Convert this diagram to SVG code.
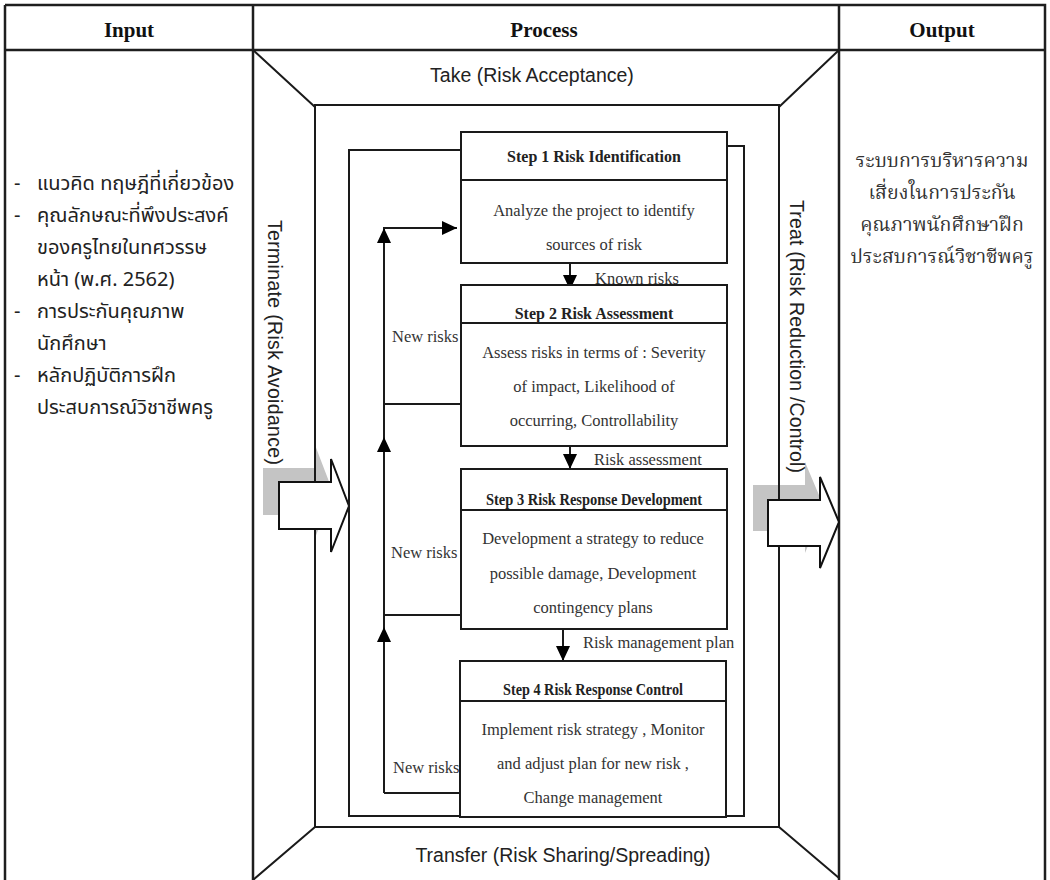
<svg xmlns="http://www.w3.org/2000/svg" width="1050" height="880" viewBox="0 0 1050 880">
<style>
.tb{fill:none;stroke:#1e1e1e;stroke-width:2.5}
.ln{fill:none;stroke:#1a1a1a;stroke-width:2}
.box{fill:#fff;stroke:#1a1a1a;stroke-width:2}
.hd{font-family:'Liberation Serif',serif;font-weight:bold;font-size:21px;fill:#111;text-anchor:middle}
.sans{font-family:'Liberation Sans',Arial,sans-serif;font-size:19.5px;fill:#222}
.st{font-family:'Liberation Serif',serif;font-weight:bold;font-size:16px;fill:#222;text-anchor:middle}
.bd{font-family:'Liberation Serif',serif;font-size:16.5px;fill:#333;text-anchor:middle}
.lb{font-family:'Liberation Serif',serif;font-size:16.5px;fill:#333}
.th{font-family:'Noto Sans Thai','Noto Sans','DejaVu Sans',sans-serif;font-size:20px;fill:#222}
.ths{font-family:'Noto Serif Thai','Liberation Serif',serif;font-size:19.5px;fill:#333;text-anchor:middle}
.shadow{fill:#c4c4c4}
.barrow{fill:#fff;stroke:#111;stroke-width:2}
</style>
<defs>
<marker id="arr" markerUnits="userSpaceOnUse" markerWidth="15" markerHeight="14" refX="15" refY="7" orient="auto">
<path d="M0,0 L15,7 L0,14 Z" fill="#000"/>
</marker>
</defs>
<rect width="1050" height="880" fill="#fff"/>

<g id="table">
<path class="tb" d="M5,5 H1045 V880 M5,5 V880 M253,5 V880 M839,5 V880 M5,50 H1045"/>
<text class="hd" x="129" y="37">Input</text>
<text class="hd" x="544" y="37">Process</text>
<text class="hd" x="942" y="37">Output</text>
</g>

<g id="input">
<text class="th" x="14" y="190">-</text><text class="th" x="37" y="190">แนวคิด ทฤษฎีที่เกี่ยวข้อง</text>
<text class="th" x="14" y="222">-</text><text class="th" x="37" y="222">คุณลักษณะที่พึงประสงค์</text>
<text class="th" x="37" y="254">ของครูไทยในทศวรรษ</text>
<text class="th" x="37" y="286">หน้า (พ.ศ. 2562)</text>
<text class="th" x="14" y="318">-</text><text class="th" x="37" y="318">การประกันคุณภาพ</text>
<text class="th" x="37" y="350">นักศึกษา</text>
<text class="th" x="14" y="382">-</text><text class="th" x="37" y="382">หลักปฏิบัติการฝึก</text>
<text class="th" x="37" y="414">ประสบการณ์วิชาชีพครู</text>
</g>

<g id="output">
<text class="ths" x="942" y="167">ระบบการบริหารความ</text>
<text class="ths" x="942" y="199">เสี่ยงในการประกัน</text>
<text class="ths" x="942" y="231">คุณภาพนักศึกษาฝึก</text>
<text class="ths" x="942" y="263">ประสบการณ์วิชาชีพครู</text>
</g>

<g id="shadows">
<path class="shadow" d="M263,468 H315 V445 L333,492 L315,538 V515 H263 Z"/>
<path class="shadow" d="M753,485 H805 V462 L824,507 L805,553 V531 H753 Z"/>
</g>

<g id="frame">
<rect class="ln" x="315" y="105" width="464" height="722"/>
<path class="ln" d="M253,50 L315,107 M839,50 L779,107 M315,827 L253,880 M779,827 L839,878"/>
<text class="sans" x="532" y="82" text-anchor="middle">Take (Risk Acceptance)</text>
<text class="sans" x="563" y="862" text-anchor="middle">Transfer (Risk Sharing/Spreading)</text>
<text class="sans" transform="translate(268,220) rotate(90)" textLength="245" lengthAdjust="spacing">Terminate (Risk Avoidance)</text>
<text class="sans" transform="translate(790,200) rotate(90)" textLength="273" lengthAdjust="spacing">Treat (Risk Reduction /Control)</text>
</g>

<g id="arrow-in">
<path class="barrow" d="M279,482 H331 V459 L349,506 L331,552 V529 H279 Z"/>
</g>
<g id="arrow-out">
<path class="barrow" d="M768,500 H820 V477 L839,522 L820,568 V546 H768 Z"/>
</g>

<g id="connectors">
<path class="ln" d="M461,150 H349 V816 H461 M727,146 H744 V816 H726"/>
<path class="ln" d="M461,404 H384 M461,615 H384 M461,793 H384"/>
<path class="ln" d="M384,793 V627" marker-end="url(#arr)"/>
<path class="ln" d="M384,627 V437" marker-end="url(#arr)"/>
<path class="ln" d="M384,437 V228" marker-end="url(#arr)"/>
<path class="ln" d="M383,228 H457" marker-end="url(#arr)"/>
<path class="ln" d="M570,263 V290" marker-end="url(#arr)"/>
<path class="ln" d="M570,446 V469" marker-end="url(#arr)"/>
<path class="ln" d="M563,629 V661" marker-end="url(#arr)"/>
<text class="lb" x="595" y="284">Known risks</text>
<text class="lb" x="594" y="465">Risk assessment</text>
<text class="lb" x="583" y="648">Risk management plan</text>
<text class="lb" x="392" y="342">New risks</text>
<text class="lb" x="391" y="558">New risks</text>
<text class="lb" x="393" y="773">New risks</text>
</g>

<g id="step1">
<rect class="box" x="461" y="132" width="266" height="48"/>
<rect class="box" x="461" y="180" width="266" height="83"/>
<text class="st" x="594" y="162">Step 1 Risk Identification</text>
<text class="bd" x="594" y="216">Analyze the project to identify</text>
<text class="bd" x="594" y="250">sources of risk</text>
</g>

<g id="step2">
<rect class="box" x="461" y="285" width="266" height="38"/>
<rect class="box" x="461" y="323" width="266" height="123"/>
<text class="st" x="594" y="319">Step 2 Risk Assessment</text>
<text class="bd" x="594" y="358">Assess risks in terms of : Severity</text>
<text class="bd" x="594" y="392">of impact, Likelihood of</text>
<text class="bd" x="594" y="426">occurring, Controllability</text>
</g>

<g id="step3">
<rect class="box" x="461" y="469" width="266" height="41"/>
<rect class="box" x="461" y="510" width="266" height="119"/>
<text class="st" x="594" y="505" textLength="216" lengthAdjust="spacingAndGlyphs">Step 3 Risk Response Development</text>
<text class="bd" x="593" y="544">Development a strategy to reduce</text>
<text class="bd" x="593" y="579">possible damage, Development</text>
<text class="bd" x="593" y="613">contingency plans</text>
</g>

<g id="step4">
<rect class="box" x="460" y="661" width="266" height="40"/>
<rect class="box" x="460" y="701" width="266" height="116"/>
<text class="st" x="593" y="695" textLength="180" lengthAdjust="spacingAndGlyphs">Step 4 Risk Response Control</text>
<text class="bd" x="593" y="735">Implement risk strategy , Monitor</text>
<text class="bd" x="593" y="769">and adjust plan for new risk ,</text>
<text class="bd" x="593" y="803">Change management</text>
</g>
</svg>
